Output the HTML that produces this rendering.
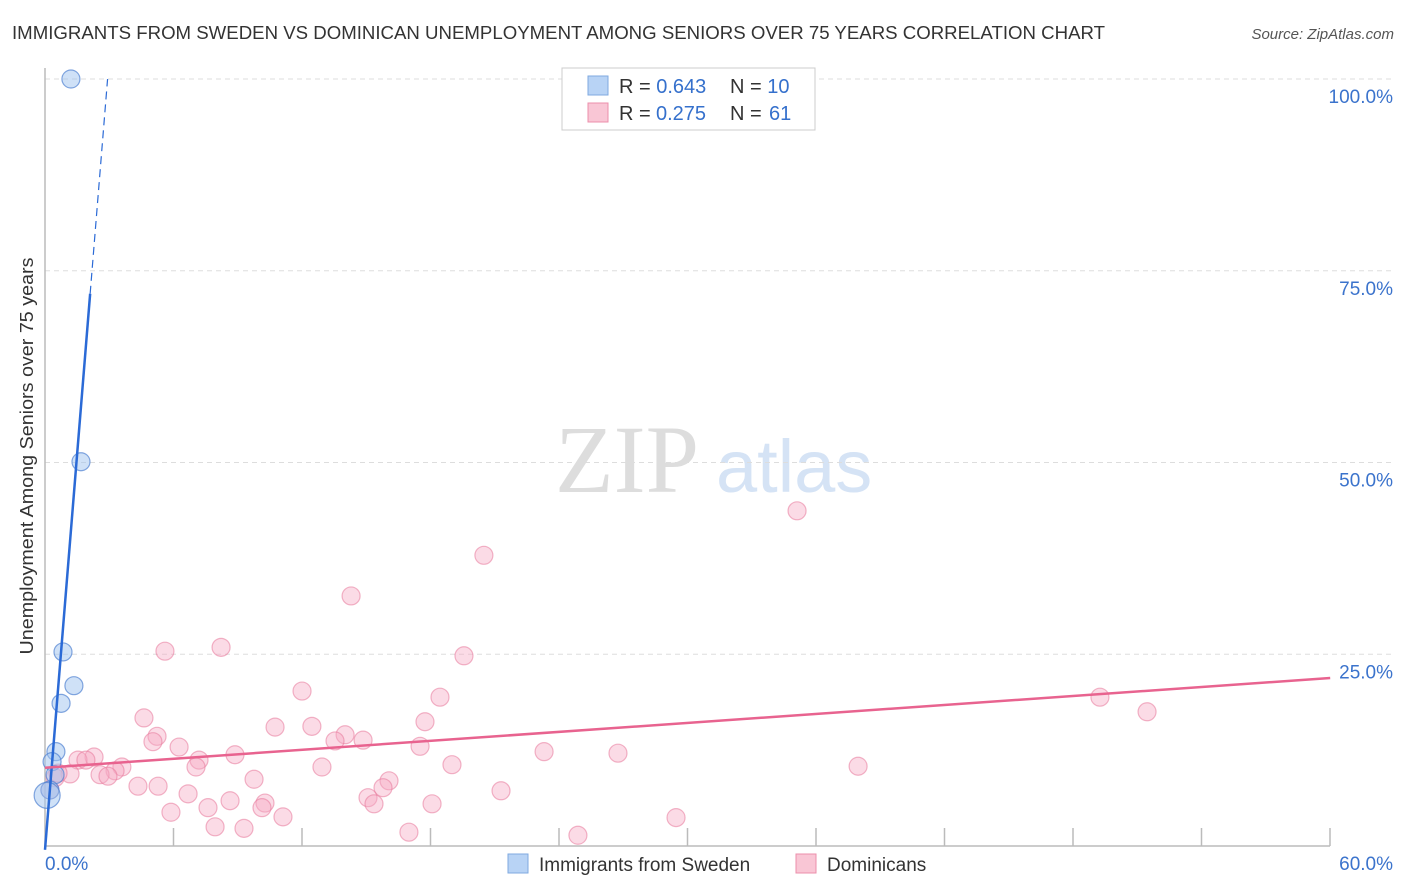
<!DOCTYPE html>
<html><head><meta charset="utf-8">
<style>
body{margin:0;background:#fff;font-family:"Liberation Sans",sans-serif;}
#wrap{position:relative;width:1406px;height:892px;overflow:hidden;}
</style></head>
<body>
<div id="wrap">
<svg id="svg" width="1406" height="892" xmlns="http://www.w3.org/2000/svg">
<text x="12" y="39" font-size="18.5" fill="#333" textLength="1093" lengthAdjust="spacingAndGlyphs">IMMIGRANTS FROM SWEDEN VS DOMINICAN UNEMPLOYMENT AMONG SENIORS OVER 75 YEARS CORRELATION CHART</text>
<text x="1394" y="39" font-size="15" fill="#555" font-style="italic" text-anchor="end">Source: ZipAtlas.com</text>
<text transform="translate(33,456) rotate(-90)" font-size="18" fill="#333" text-anchor="middle" textLength="397" lengthAdjust="spacingAndGlyphs">Unemployment Among Seniors over 75 years</text>
<text x="555" y="492" font-size="96" fill="#ddd" font-family="Liberation Serif">ZIP</text>
<text x="716" y="492" font-size="74" fill="#d5e3f5">atlas</text>
<g id="grid"></g>
<g id="pts"></g>
<g id="lines"></g>
<g>
<rect x="562" y="68" width="253" height="62" fill="#fff" stroke="#ccc"/>
<rect x="588" y="76" width="20" height="19" fill="#b8d3f5" stroke="#7fa9e0"/>
<rect x="588" y="103" width="20" height="19" fill="#f9c6d5" stroke="#ec8fab"/>
<text x="619" y="93" font-size="20" fill="#333">R = <tspan fill="#3570cc">0.643</tspan><tspan x="730">N = </tspan><tspan fill="#3570cc">10</tspan></text>
<text x="619" y="120" font-size="20" fill="#333">R = <tspan fill="#3570cc" x="656">0.275</tspan><tspan x="730">N = </tspan><tspan fill="#3570cc" x="769">61</tspan></text>
</g>
<g>
<rect x="508" y="854" width="20" height="19" fill="#b8d3f5" stroke="#7fa9e0"/>
<text x="539" y="871" font-size="19" fill="#333">Immigrants from Sweden</text>
<rect x="796" y="854" width="20" height="19" fill="#f9c6d5" stroke="#ec8fab"/>
<text x="827" y="871" font-size="19" fill="#333">Dominicans</text>
</g>
</svg>
</div>
<script>
const yTicks=[25,50,75,100];
const yTickLabels=["25.0%","50.0%","75.0%","100.0%"];
const xTickLabels=["0.0%","60.0%"];
const swedenX=[1.21,1.68,0.84,1.35,0.75,0.51,0.33,0.47,0.23,0.1];
const swedenY=[100,50.1,25.3,20.9,18.6,12.3,11,9.3,7.3,6.6];
const domPx=[[165,651],[221,647],[351,596],[484,555],[797,511],[464,656],[302,691],[440,697],[1100,697],[1147,712],[144,718],[275,727],[312,726],[425,722],[157,736],[345,735],[153,742],[335,741],[363,740],[179,747],[420,746],[544,752],[618,753],[94,757],[235,755],[78,760],[86,760],[199,760],[196,767],[322,767],[452,765],[858,766],[122,767],[115,771],[70,774],[100,775],[108,776],[254,779],[389,781],[158,786],[138,786],[383,788],[501,791],[188,794],[368,798],[230,801],[265,803],[208,808],[374,804],[432,804],[262,808],[171,812],[283,817],[676,818],[215,827],[244,828],[409,832],[578,835],[55,778],[50,790],[58,773]];
const domX=domPx.map(p=>+((p[0]-45)/21.42).toFixed(2));
const domY=domPx.map(p=>+((846-p[1])/7.67).toFixed(1));
const swedenLine=[-0.5,34.4];
const domLine=[10.2,0.195];
const X=v=>45+v*21.42, Y=v=>846-v*7.67;
const NS="http://www.w3.org/2000/svg";
function mk(t,a,parent){const e=document.createElementNS(NS,t);for(const k in a)e.setAttribute(k,a[k]);parent.appendChild(e);return e;}
const grid=document.getElementById('grid');
yTicks.forEach((t,i)=>{
 const l=mk('line',{x1:45,x2:1392,y1:Y(t),y2:Y(t),stroke:'#ddd','stroke-dasharray':'5,4'},grid);
 
 
 const tx=mk('text',{x:1393,y:Y(t)+24,'font-size':19,fill:'#3b73cc','text-anchor':'end'},grid);
 tx.textContent=yTickLabels[i];
 
 
});
const ax=mk('line',{x1:45,x2:1330,y1:846,y2:846,stroke:'#bbb','stroke-width':1.5},grid);


const ay=mk('line',{x1:45,x2:45,y1:68,y2:846,stroke:'#bbb','stroke-width':1.5},grid);


for(let i=1;i<=10;i++){const xx=45+i*128.5;const t=mk('line',{x1:xx,x2:xx,y1:828,y2:846,stroke:'#bbb','stroke-width':1.5},grid);
 
 }
[[45,'start',0],[1393,'end',1]].forEach(a=>{const t=mk('text',{x:a[0],y:870,'font-size':19,fill:'#3b73cc','text-anchor':a[1]},grid);t.textContent=xTickLabels[a[2]];
 
 });
const pts=document.getElementById('pts');
domX.forEach((x,i)=>{const c=mk('circle',{cx:X(x),cy:Y(domY[i]),r:9,fill:'rgba(246,170,195,0.42)',stroke:'rgba(232,120,155,0.55)','stroke-width':1.2},pts);
 
 });
swedenX.forEach((x,i)=>{const c=mk('circle',{cx:X(x),cy:Y(swedenY[i]),r:i==9?13:9,fill:'rgba(160,195,240,0.5)',stroke:'rgba(80,130,210,0.7)','stroke-width':1.2},pts);
 
 });
const lines=document.getElementById('lines');
const sxe=(72-swedenLine[0])/swedenLine[1], sxt=(100-swedenLine[0])/swedenLine[1];
const l1=mk('line',{x1:X(0),y1:Y(swedenLine[0]),x2:X(sxe),y2:Y(72),stroke:'#2b6ad6','stroke-width':2.5},lines);


const l2=mk('line',{x1:X(sxe),y1:Y(72),x2:X(sxt),y2:Y(100),stroke:'#2b6ad6','stroke-width':1.2,'stroke-dasharray':'8,5'},lines);


const l3=mk('line',{x1:X(0),y1:Y(domLine[0]),x2:X(60),y2:Y(domLine[0]+60*domLine[1]),stroke:'#e8638f','stroke-width':2.5},lines);


</script>
</body></html>
